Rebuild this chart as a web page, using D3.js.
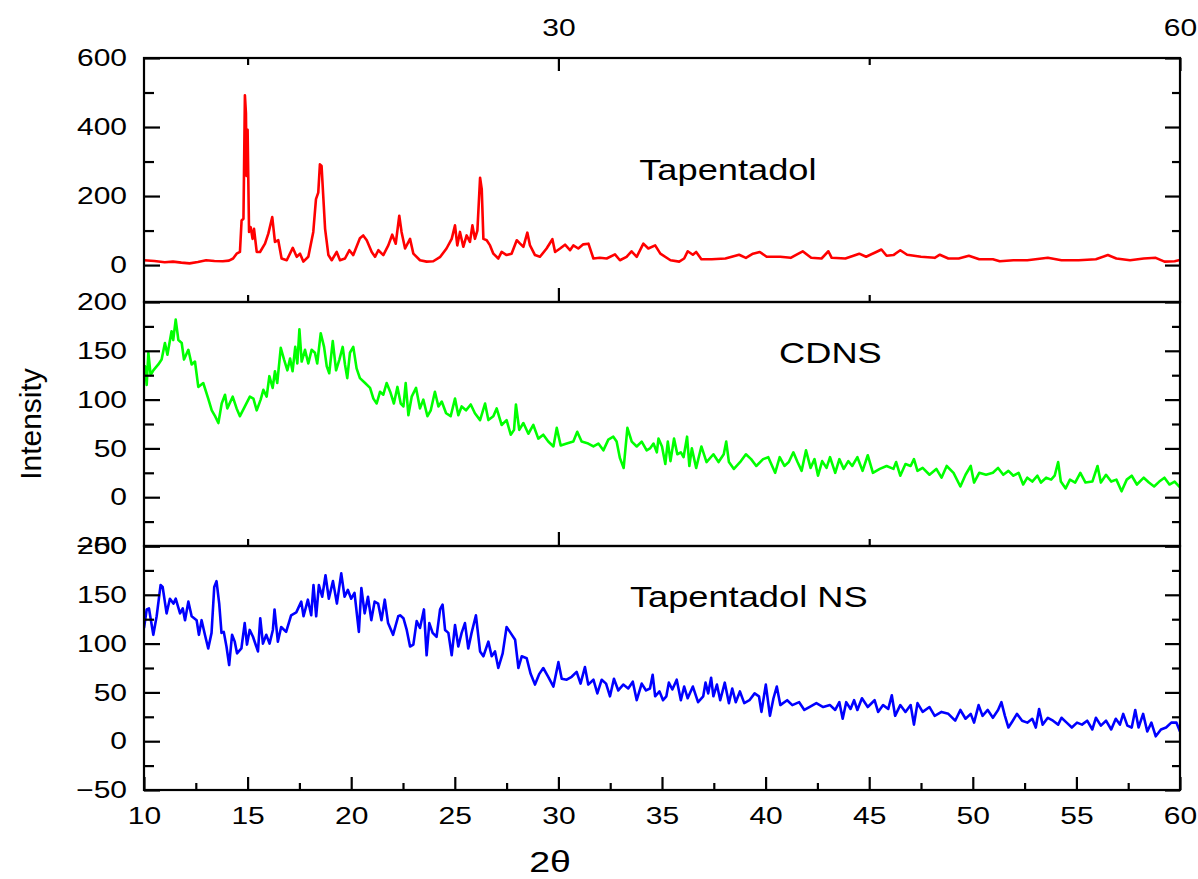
<!DOCTYPE html>
<html>
<head>
<meta charset="utf-8">
<script src="https://cdn.jsdelivr.net/npm/d3@7"></script>
<style>
    body { margin: 0; background: #ffffff; }
    svg text { font-family: "Liberation Sans", Arial, sans-serif; fill: #000; }
</style>
</head>
<body>
<svg id="chart" width="1198" height="879"></svg>
<script>
// 2-theta / intensity, one pair of arrays per trace
let tapentadolTheta = [10.0, 10.5, 11.0, 11.4, 11.8, 12.2, 12.6, 13.0, 13.4, 13.8, 14.1, 14.3, 14.47, 14.63, 14.71, 14.8, 14.87, 14.92, 14.95, 15.0,
    15.07, 15.15, 15.24, 15.31, 15.44, 15.6, 15.84, 16.0, 16.19, 16.32, 16.48, 16.64, 16.89, 17.18, 17.37, 17.53, 17.69, 17.93, 18.17, 18.3,
    18.41, 18.49, 18.57, 18.65, 18.74, 18.9, 19.06, 19.3, 19.46, 19.7, 19.91, 20.1, 20.42, 20.58, 20.75, 20.99, 21.15, 21.31, 21.55, 21.79,
    21.98, 22.15, 22.32, 22.43, 22.6, 22.84, 23.0, 23.32, 23.64, 23.96, 24.3, 24.6, 24.85, 25.01, 25.12, 25.25, 25.41, 25.57, 25.73, 25.85,
    25.97, 26.09, 26.22, 26.3, 26.38, 26.54, 26.7, 26.86, 27.1, 27.26, 27.5, 27.74, 27.99, 28.15, 28.31, 28.5, 28.63, 28.87, 29.11, 29.43,
    29.71, 29.84, 30.08, 30.32, 30.56, 30.72, 30.96, 31.2, 31.45, 31.69, 32.0, 32.33, 32.73, 32.97, 33.29, 33.53, 33.78, 34.1, 34.34, 34.67,
    34.92, 35.41, 35.83, 36.07, 36.24, 36.49, 36.65, 36.9, 37.4, 38.06, 38.72, 39.05, 39.39, 39.72, 40.05, 40.71, 41.21, 41.79, 42.2, 42.7,
    43.03, 43.19, 43.85, 44.52, 44.85, 45.34, 45.59, 45.84, 46.17, 46.5, 46.83, 47.5, 48.16, 48.41, 48.82, 49.32, 49.81, 50.31, 50.97, 51.3,
    51.96, 52.63, 53.62, 54.28, 55.11, 55.94, 56.52, 56.93, 57.59, 58.25, 58.83, 59.25, 59.74, 60.0];
let tapentadolIntensity = [14, 12, 8, 10, 7, 5, 9, 14, 12, 11, 13, 19, 33, 38, 129, 134, 492, 440, 258, 392,
    96, 110, 76, 105, 38, 38, 62, 91, 139, 67, 72, 19, 14, 50, 24, 33, 10, 24, 96, 191,
    210, 292, 287, 201, 105, 29, 14, 38, 14, 19, 43, 29, 78, 86, 72, 38, 24, 43, 29, 57,
    88, 62, 143, 96, 48, 76, 33, 14, 10, 11, 24, 48, 76, 115, 57, 96, 53, 86, 67, 115,
    76, 100, 253, 220, 76, 72, 57, 33, 19, 38, 29, 33, 72, 62, 53, 94, 57, 29, 24, 48,
    75, 38, 48, 59, 43, 57, 48, 60, 62, 19, 21, 19, 31, 14, 24, 40, 24, 62, 48, 57,
    33, 14, 10, 19, 40, 30, 38, 17, 17, 19, 30, 21, 33, 38, 24, 24, 21, 40, 21, 19,
    40, 21, 19, 33, 24, 38, 45, 27, 29, 43, 30, 24, 21, 30, 19, 19, 27, 17, 17, 11,
    14, 14, 21, 14, 14, 17, 29, 19, 14, 19, 21, 10, 11, 15];

let cdnsTheta = [10.0, 10.05, 10.13, 10.21, 10.32, 10.45, 10.69, 10.85, 11.01, 11.13, 11.33, 11.41, 11.53, 11.66, 11.82, 11.93, 12.14, 12.3, 12.46, 12.62,
    12.86, 13.1, 13.27, 13.43, 13.59, 13.75, 13.91, 14.02, 14.28, 14.47, 14.63, 14.87, 15.11, 15.28, 15.44, 15.63, 15.76, 15.92, 16.05, 16.21,
    16.32, 16.43, 16.6, 16.76, 16.92, 17.05, 17.17, 17.3, 17.4, 17.5, 17.61, 17.77, 17.93, 18.09, 18.25, 18.36, 18.53, 18.69, 18.82, 18.94,
    19.11, 19.27, 19.43, 19.59, 19.7, 19.81, 19.94, 20.1, 20.26, 20.42, 20.67, 20.91, 21.07, 21.23, 21.39, 21.55, 21.71, 21.9, 22.06, 22.23,
    22.39, 22.52, 22.63, 22.76, 22.92, 23.13, 23.32, 23.48, 23.68, 23.84, 24.04, 24.21, 24.37, 24.58, 24.8, 25.01, 25.17, 25.33, 25.54, 25.77,
    25.97, 26.22, 26.46, 26.62, 26.86, 27.02, 27.26, 27.5, 27.7, 27.86, 27.95, 28.11, 28.31, 28.55, 28.79, 29.03, 29.27, 29.51, 29.76, 29.92,
    30.11, 30.4, 30.72, 30.91, 31.12, 31.44, 31.69, 31.93, 32.17, 32.41, 32.65, 32.81, 32.97, 33.15, 33.33, 33.54, 33.78, 34.02, 34.26, 34.42,
    34.59, 34.75, 34.83, 35.0, 35.16, 35.28, 35.41, 35.58, 35.74, 35.91, 36.04, 36.21, 36.32, 36.44, 36.65, 36.9, 37.15, 37.48, 37.73, 37.98,
    38.1, 38.23, 38.47, 38.81, 39.05, 39.3, 39.55, 39.88, 40.13, 40.46, 40.68, 40.91, 41.12, 41.34, 41.54, 41.74, 41.95, 42.17, 42.36, 42.53,
    42.73, 42.94, 43.11, 43.36, 43.56, 43.77, 43.99, 44.18, 44.43, 44.68, 44.93, 45.18, 45.51, 45.84, 46.17, 46.3, 46.5, 46.75, 47.0, 47.16,
    47.33, 47.58, 47.91, 48.24, 48.49, 48.74, 49.07, 49.4, 49.65, 49.9, 50.06, 50.31, 50.64, 50.97, 51.22, 51.47, 51.72, 51.96, 52.21, 52.43,
    52.63, 52.87, 53.12, 53.29, 53.54, 53.78, 53.95, 54.12, 54.25, 54.48, 54.69, 54.94, 55.19, 55.44, 55.77, 56.02, 56.18, 56.43, 56.68, 56.93,
    57.18, 57.43, 57.67, 57.92, 58.25, 58.5, 58.75, 59.0, 59.25, 59.49, 59.74, 60.0];
let cdnsIntensity = [124, 134, 115, 148, 125, 130, 136, 141, 158, 146, 170, 161, 182, 161, 158, 141, 151, 136, 139, 113,
    117, 101, 89, 83, 76, 96, 105, 91, 103, 91, 83, 93, 103, 101, 89, 100, 110, 103, 124, 112,
    129, 117, 153, 141, 130, 142, 129, 154, 137, 172, 139, 151, 137, 151, 148, 137, 168, 154, 134, 127,
    160, 130, 141, 154, 136, 122, 148, 154, 132, 122, 117, 112, 101, 96, 108, 105, 117, 107, 96, 113,
    96, 93, 117, 84, 103, 112, 91, 100, 83, 89, 108, 93, 98, 86, 83, 101, 84, 93, 89, 95,
    86, 79, 96, 79, 83, 91, 74, 79, 64, 69, 95, 69, 76, 65, 74, 60, 64, 57, 52, 71,
    53, 55, 57, 67, 57, 55, 52, 55, 48, 59, 62, 57, 40, 30, 71, 57, 52, 57, 48, 50,
    55, 46, 60, 52, 34, 57, 37, 60, 44, 46, 41, 62, 32, 50, 30, 52, 36, 44, 36, 44,
    57, 36, 29, 37, 44, 39, 32, 39, 41, 25, 41, 32, 36, 46, 36, 27, 48, 30, 39, 22,
    37, 30, 41, 25, 39, 29, 37, 32, 41, 27, 43, 25, 29, 32, 29, 36, 22, 34, 32, 39,
    27, 30, 23, 29, 20, 32, 25, 11, 23, 32, 15, 25, 23, 25, 30, 23, 27, 22, 25, 13,
    20, 16, 22, 15, 20, 18, 22, 36, 16, 9, 18, 15, 25, 15, 16, 32, 15, 23, 16, 18,
    6, 18, 22, 13, 20, 15, 11, 16, 20, 13, 16, 10];

let nsTheta = [10.0, 10.13, 10.24, 10.45, 10.61, 10.8, 10.9, 11.09, 11.25, 11.42, 11.53, 11.74, 11.87, 11.98, 12.14, 12.3, 12.54, 12.65, 12.78, 12.94,
    13.1, 13.26, 13.39, 13.5, 13.63, 13.74, 13.85, 13.98, 14.11, 14.25, 14.38, 14.49, 14.7, 14.86, 14.97, 15.1, 15.26, 15.5, 15.61, 15.74,
    15.9, 16.06, 16.22, 16.3, 16.46, 16.62, 16.86, 17.1, 17.35, 17.59, 17.7, 17.91, 18.07, 18.18, 18.31, 18.44, 18.6, 18.76, 18.92, 19.12,
    19.31, 19.52, 19.68, 19.84, 20.0, 20.16, 20.37, 20.49, 20.65, 20.81, 20.97, 21.13, 21.3, 21.46, 21.62, 21.78, 22.02, 22.27, 22.36, 22.52,
    22.68, 22.84, 23.0, 23.16, 23.32, 23.51, 23.64, 23.77, 23.93, 24.12, 24.29, 24.41, 24.53, 24.69, 24.85, 25.01, 25.17, 25.33, 25.49, 25.65,
    25.81, 26.02, 26.22, 26.38, 26.62, 26.78, 26.94, 27.1, 27.31, 27.5, 27.66, 27.91, 28.07, 28.23, 28.47, 28.66, 28.87, 29.08, 29.27, 29.51,
    29.76, 30.0, 30.16, 30.4, 30.64, 30.88, 31.07, 31.28, 31.44, 31.69, 31.88, 32.09, 32.3, 32.49, 32.68, 32.89, 33.13, 33.37, 33.59, 33.78,
    34.02, 34.23, 34.42, 34.55, 34.67, 34.88, 35.05, 35.21, 35.33, 35.5, 35.71, 35.91, 36.07, 36.24, 36.49, 36.74, 36.99, 37.1, 37.23, 37.37,
    37.48, 37.65, 37.81, 38.03, 38.23, 38.39, 38.56, 38.76, 38.97, 39.22, 39.47, 39.68, 39.8, 40.01, 40.21, 40.38, 40.54, 40.71, 41.04, 41.29,
    41.62, 41.87, 42.11, 42.45, 42.78, 43.11, 43.36, 43.56, 43.72, 43.89, 44.1, 44.27, 44.43, 44.65, 44.93, 45.26, 45.43, 45.67, 45.92, 46.09,
    46.25, 46.5, 46.75, 47.0, 47.16, 47.33, 47.58, 47.91, 48.16, 48.49, 48.82, 49.15, 49.4, 49.65, 49.9, 50.06, 50.28, 50.47, 50.72, 50.97,
    51.22, 51.38, 51.55, 51.72, 51.93, 52.13, 52.38, 52.63, 52.87, 53.04, 53.2, 53.37, 53.62, 53.87, 54.12, 54.28, 54.53, 54.78, 55.03, 55.27,
    55.52, 55.77, 55.94, 56.18, 56.43, 56.68, 56.9, 57.1, 57.26, 57.46, 57.67, 57.84, 58.0, 58.22, 58.42, 58.62, 58.83, 59.08, 59.33, 59.58,
    59.83, 60.0];
let nsIntensity = [116, 135, 136, 109, 128, 160, 158, 131, 146, 141, 146, 131, 136, 124, 143, 128, 124, 109, 124, 109,
    95, 111, 158, 164, 141, 111, 112, 97, 78, 109, 102, 90, 95, 121, 99, 114, 107, 92, 126, 100,
    109, 100, 114, 135, 102, 117, 112, 129, 132, 143, 128, 145, 129, 160, 128, 160, 148, 170, 146, 164,
    141, 172, 148, 155, 146, 152, 112, 157, 131, 148, 124, 143, 141, 124, 145, 121, 109, 128, 129, 126,
    114, 97, 99, 123, 116, 135, 88, 121, 111, 107, 135, 140, 114, 111, 88, 119, 97, 111, 121, 95,
    111, 129, 92, 87, 102, 87, 92, 75, 90, 117, 112, 104, 75, 87, 85, 69, 58, 69, 75, 66,
    56, 81, 64, 63, 66, 71, 59, 76, 58, 63, 49, 63, 59, 46, 64, 52, 58, 54, 61, 42,
    59, 52, 54, 68, 46, 51, 42, 46, 60, 53, 63, 42, 56, 44, 56, 40, 46, 60, 49, 65,
    46, 58, 42, 60, 39, 54, 40, 51, 39, 42, 49, 46, 30, 58, 26, 44, 56, 37, 42, 37,
    40, 32, 35, 39, 35, 37, 32, 40, 23, 40, 33, 42, 32, 44, 35, 42, 30, 37, 33, 47,
    26, 37, 30, 37, 17, 39, 30, 35, 26, 30, 28, 21, 32, 23, 28, 19, 37, 26, 32, 24,
    32, 40, 26, 14, 21, 28, 21, 19, 23, 14, 33, 17, 24, 21, 17, 24, 19, 14, 19, 17,
    21, 12, 24, 16, 21, 12, 23, 17, 28, 16, 14, 32, 14, 28, 10, 19, 5, 12, 14, 19,
    19, 10];

// axis ticks
let thetaTicks = [10, 15, 20, 25, 30, 35, 40, 45, 50, 55, 60];
let thetaMinorTicks = [12.5, 17.5, 22.5, 27.5, 32.5, 37.5, 42.5, 47.5, 52.5, 57.5];
let topThetaTicks = [30, 60];
let topThetaMinorTicks = [15, 45];
let tapentadolTicks = [0, 200, 400, 600];
let tapentadolMinorTicks = [100, 300, 500];
let nsTicks = [-50, 0, 50, 100, 150, 200];
let nsMinorTicks = [-25, 25, 75, 125, 175];

const STRETCH = 1.25; // the source picture was widened, type included

function StackedPattern(svgNode) {
    let that = this;
    that.svg = d3.select(svgNode);
    that.left = 144;
    that.right = 1180;
    that.top = 58;
    that.panelHeight = 244;

    that.x = d3.scaleLinear().domain([10, 60]).range([that.left, that.right]);

    that.panels = [
        {name: "Tapentadol", color: "#ff0000", theta: tapentadolTheta, intensity: tapentadolIntensity,
            domain: [-107, 600], ticks: tapentadolTicks, minor: tapentadolMinorTicks, labelAt: [33.9, 246]},
        {name: "CDNS", color: "#00ff00", theta: cdnsTheta, intensity: cdnsIntensity,
            domain: [-50, 200], ticks: nsTicks, minor: nsMinorTicks, labelAt: [40.65, 137]},
        {name: "Tapentadol NS", color: "#0000ff", theta: nsTheta, intensity: nsIntensity,
            domain: [-50, 200], ticks: nsTicks, minor: nsMinorTicks, labelAt: [33.45, 138]}
    ];

    function stretchText(sel, dx) {
        sel.attr("x", dx / STRETCH).attr("transform", "scale(" + STRETCH + ",1)");
    }

    function thickTicks(g) {
        g.select(".domain").remove();
        g.selectAll("line").attr("stroke", "#000").attr("stroke-width", 2.2);
    }

    that.drawPanel = function (p, i) {
        let y0 = that.top + i * that.panelHeight;
        let y = d3.scaleLinear().domain(p.domain).range([y0 + that.panelHeight, y0]);

        let clipId = "clip" + i;
        that.svg.append("clipPath").attr("id", clipId)
            .append("rect")
            .attr("x", that.left).attr("y", y0)
            .attr("width", that.right - that.left).attr("height", that.panelHeight);

        let pts = p.theta.map((t, k) => [t, p.intensity[k]]);
        that.svg.append("path")
            .datum(pts)
            .attr("clip-path", "url(#" + clipId + ")")
            .attr("fill", "none")
            .attr("stroke", p.color)
            .attr("stroke-width", 2.6)
            .attr("stroke-linejoin", "round")
            .attr("d", d3.line().x(d => that.x(d[0])).y(d => y(d[1])));

        // left axis, ticks pointing in
        let leftAxis = that.svg.append("g")
            .attr("transform", "translate(" + that.left + ",0)")
            .style("font-size", "24px")
            .call(d3.axisLeft(y).tickValues(p.ticks).tickSizeInner(-16).tickSizeOuter(0).tickPadding(17))
            .call(thickTicks);
        leftAxis.selectAll("text").attr("fill", "#000").call(stretchText, -17);
        that.svg.append("g")
            .attr("transform", "translate(" + that.left + ",0)")
            .call(d3.axisLeft(y).tickValues(p.minor).tickSizeInner(-10).tickSizeOuter(0).tickFormat(""))
            .call(thickTicks);

        // right axis, no labels
        that.svg.append("g")
            .attr("transform", "translate(" + that.right + ",0)")
            .call(d3.axisRight(y).tickValues(p.ticks).tickSizeInner(-15).tickSizeOuter(0).tickFormat(""))
            .call(thickTicks);
        that.svg.append("g")
            .attr("transform", "translate(" + that.right + ",0)")
            .call(d3.axisRight(y).tickValues(p.minor).tickSizeInner(-8).tickSizeOuter(0).tickFormat(""))
            .call(thickTicks);

        // little upward ticks along the panel's lower edge
        if (i < that.panels.length - 1) {
            let yb = y0 + that.panelHeight;
            that.svg.append("g")
                .attr("transform", "translate(0," + yb + ")")
                .call(d3.axisTop(that.x).tickValues([30]).tickSizeInner(14).tickSizeOuter(0).tickFormat(""))
                .call(thickTicks);
            that.svg.append("g")
                .attr("transform", "translate(0," + yb + ")")
                .call(d3.axisTop(that.x).tickValues(topThetaMinorTicks).tickSizeInner(7).tickSizeOuter(0).tickFormat(""))
                .call(thickTicks);
        }

        that.svg.append("rect")
            .attr("x", that.left).attr("y", y0)
            .attr("width", that.right - that.left).attr("height", that.panelHeight)
            .attr("fill", "none").attr("stroke", "#000").attr("stroke-width", 2.2);

        that.svg.append("text")
            .attr("transform", "translate(" + that.x(p.labelAt[0]) + "," + y(p.labelAt[1]) + ") scale(" + STRETCH + ",1)")
            .style("font-size", "29px")
            .text(p.name);
    };

    that.drawThetaAxes = function () {
        let yBottom = that.top + that.panels.length * that.panelHeight;

        let bottom = that.svg.append("g")
            .attr("transform", "translate(0," + yBottom + ")")
            .style("font-size", "24px")
            .call(d3.axisBottom(that.x).tickValues(thetaTicks).tickSizeInner(-13).tickSizeOuter(0).tickPadding(17))
            .call(thickTicks);
        bottom.selectAll("text").attr("fill", "#000").attr("transform", "scale(" + STRETCH + ",1)");
        that.svg.append("g")
            .attr("transform", "translate(0," + yBottom + ")")
            .call(d3.axisBottom(that.x).tickValues(thetaMinorTicks).tickSizeInner(-7).tickSizeOuter(0).tickFormat(""))
            .call(thickTicks);

        let top = that.svg.append("g")
            .attr("transform", "translate(0," + that.top + ")")
            .style("font-size", "24px")
            .call(d3.axisTop(that.x).tickValues(topThetaTicks).tickSizeInner(-13).tickSizeOuter(0).tickPadding(22))
            .call(thickTicks);
        top.selectAll("text").attr("fill", "#000").attr("transform", "scale(" + STRETCH + ",1)");
        that.svg.append("g")
            .attr("transform", "translate(0," + that.top + ")")
            .call(d3.axisTop(that.x).tickValues(topThetaMinorTicks).tickSizeInner(-7).tickSizeOuter(0).tickFormat(""))
            .call(thickTicks);

        that.svg.append("text")
            .attr("transform", "translate(" + that.x(29.6) + ",872) scale(" + STRETCH + ",1)")
            .attr("text-anchor", "middle")
            .style("font-size", "30px")
            .text("2\u03B8");

        that.svg.append("text")
            .attr("transform", "translate(41," + (that.top + 1.5 * that.panelHeight) + ") rotate(-90)")
            .attr("text-anchor", "middle")
            .style("font-size", "30px")
            .text("Intensity");
    };

    that.panels.forEach((p, i) => that.drawPanel(p, i));
    that.drawThetaAxes();
}

new StackedPattern(document.getElementById("chart"));
</script>
</body>
</html>
